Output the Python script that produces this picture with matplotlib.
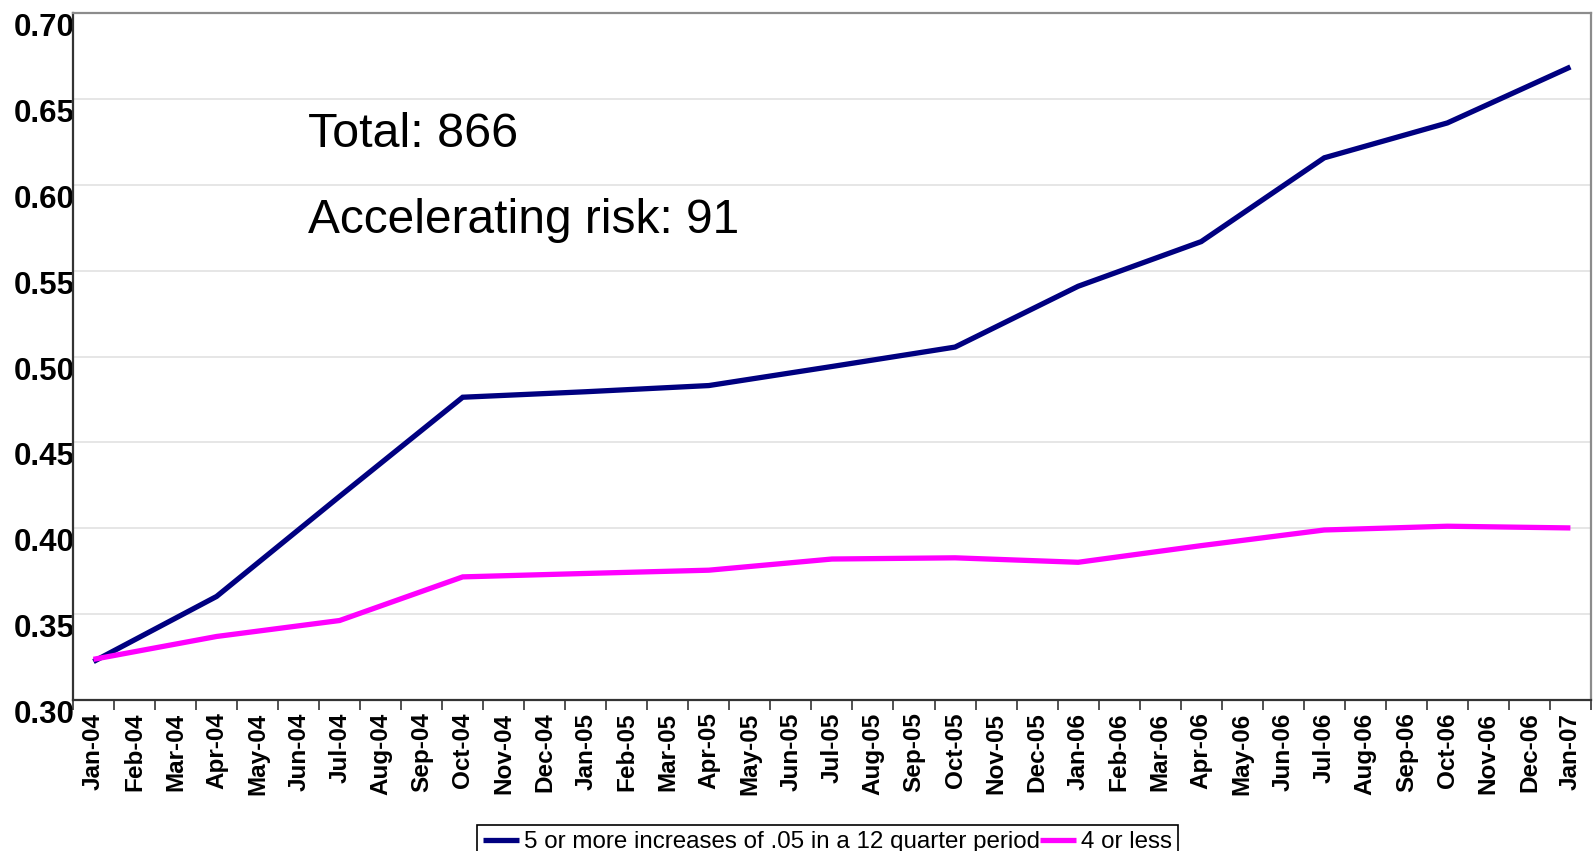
import numpy as np
import pandas as pd
import matplotlib
matplotlib.use("Agg")
import matplotlib.pyplot as plt

plt.rcParams['font.family'] = ['Liberation Sans', 'DejaVu Sans']

# monthly category axis, Jan-04 .. Jan-07
months = list(pd.date_range("2004-01-01", "2007-01-01", freq="MS").strftime("%b-%y"))

# quarterly observations
quarters = ["Jan-04", "Apr-04", "Jul-04", "Oct-04", "Jan-05", "Apr-05", "Jul-05",
            "Oct-05", "Jan-06", "Apr-06", "Jul-06", "Oct-06", "Jan-07"]
accel = [0.3224, 0.3603, 0.4186, 0.4763, 0.4795, 0.4831, 0.4942,
         0.5055, 0.5409, 0.5669, 0.6157, 0.6360, 0.6686]
other = [0.3237, 0.3370, 0.3463, 0.3717, 0.3737, 0.3756, 0.3821,
         0.3828, 0.3802, 0.3899, 0.3990, 0.4012, 0.4002]

accel_label = "5 or more increases of .05 in a 12 quarter period"
other_label = "4 or less"
total_txt = "Total: 866"
accel_txt = "Accelerating risk: 91"

xpos = [months.index(q) for q in quarters]

fig = plt.figure(figsize=(15.93, 8.51), dpi=100)
ax = fig.add_axes([0.0458, 0.1774, 0.9529, 0.8073])

ax.plot(xpos, accel, color='#000080', lw=3.8, solid_capstyle='butt',
        solid_joinstyle='miter', label=accel_label)
ax.plot(xpos, other, color='#FF00FF', lw=3.8, solid_capstyle='butt',
        solid_joinstyle='miter', label=other_label)

ax.set_xlim(-0.5, len(months) - 0.5)
ax.set_ylim(0.30, 0.70)

# y axis
yt = np.arange(0.30, 0.701, 0.05)
ax.set_yticks(yt)
ax.set_yticklabels([f"{v:.2f}" for v in yt], fontsize=22.5, fontweight='bold')
ax.tick_params(axis='y', length=0, pad=-1.5)
for lab in ax.get_yticklabels():
    lab.set_verticalalignment('top')
ax.yaxis.grid(True, color='#e2e2e2', lw=1.2)
ax.set_axisbelow(True)

# x axis: labels at category centres, tick marks between categories
ax.set_xticks(range(len(months)))
ax.set_xticklabels(months, rotation=90, fontsize=17.5, fontweight='bold')
ax.set_xticks(np.arange(-0.5, len(months), 1), minor=True)
ax.tick_params(axis='x', which='major', length=0, pad=9)
ax.tick_params(axis='x', which='minor', length=7, width=1.2, color='#333333')

ax.spines['left'].set_color('#333333')
ax.spines['bottom'].set_color('#333333')
ax.spines['left'].set_linewidth(1.6)
ax.spines['bottom'].set_linewidth(1.6)
for s in ('top', 'right'):
    ax.spines[s].set_color('#8c8c8c')
    ax.spines[s].set_linewidth(1.6)

ax.text(0.1548, 0.805, total_txt, transform=ax.transAxes, fontsize=34.8,
        va='baseline', ha='left')
ax.text(0.1548, 0.680, accel_txt, transform=ax.transAxes, fontsize=34.5,
        va='baseline', ha='left')

leg = ax.legend(loc='upper left', bbox_to_anchor=(477 / 1593, 1 - 825 / 851),
                bbox_transform=fig.transFigure, ncol=2, fontsize=17.4,
                handlelength=1.5, handletextpad=0.2, columnspacing=0.0,
                borderpad=0.25, borderaxespad=0, fancybox=False,
                framealpha=1, edgecolor='black')
leg.get_frame().set_linewidth(1.2)

fig.savefig("out.png", dpi=100)
